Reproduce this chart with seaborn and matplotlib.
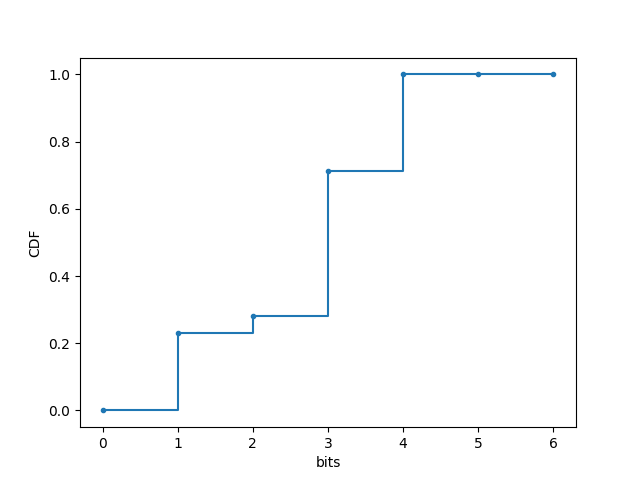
import matplotlib
matplotlib.use("Agg")
import matplotlib.pyplot as plt
import pandas as pd
import seaborn as sns

BITS = [0, 1, 2, 3, 4, 5, 6]
CDF = [0.0, 0.23, 0.28, 0.712, 1.0, 1.0, 1.0]


def main():
    df = pd.DataFrame({"bits": BITS, "CDF": CDF})
    fig, ax = plt.subplots(figsize=(6.4, 4.8), dpi=100)
    sns.lineplot(data=df, x="bits", y="CDF", ax=ax, color="#1f77b4",
                 drawstyle="steps-post", marker=".", markersize=6,
                 markeredgewidth=1, markeredgecolor="#1f77b4", linewidth=1.5)
    ax.set_xlabel("bits")
    ax.set_ylabel("CDF")
    fig.savefig("out.png", dpi=100)
    plt.close(fig)


if __name__ == "__main__":
    main()
